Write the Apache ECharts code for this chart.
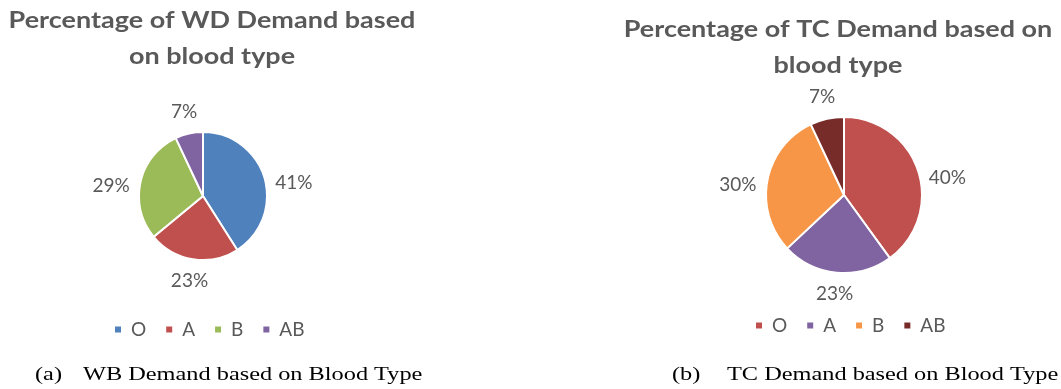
<!DOCTYPE html>
<html>
<head>
<meta charset="utf-8">
<script src="https://cdn.jsdelivr.net/npm/echarts@6/dist/echarts.min.js"></script>
<style>
  html, body { margin: 0; padding: 0; background: #fff; }
  #chart { width: 1061px; height: 389px; }
</style>
</head>
<body>
<div id="chart"></div>
<script>
const bloodTypes = ['O', 'A', 'B', 'AB']
const wdValues = [41, 23, 29, 7]
const tcValues = [40, 23, 30, 7]
const wdColors = ['#4F81BD', '#C0504D', '#9BBB59', '#8064A2']
const tcColors = ['#C0504D', '#8064A2', '#F79646', '#772C2A']

const chart = echarts.init(document.getElementById('chart'))

const grey = '#595959'
const sans = 'Lato, "Open Sans", sans-serif'
const serif = '"Liberation Serif", "Times New Roman", serif'

const centers = [[203, 196], [844, 195]]
const radii = [64, 78]
const allValues = [wdValues, tcValues]

const toData = (vals, colors) =>
  bloodTypes.map((name, i) => ({ name: name, value: vals[i], itemStyle: { color: colors[i] } }))

const toLegend = (colors) =>
  bloodTypes.map((name, i) => ({ name: name, itemStyle: { color: colors[i] } }))

// put label just outside the slice, like excel does (side labels drift toward horizontal)
const placeLabel = (params) => {
  const vals = allValues[params.seriesIndex]
  const total = vals.reduce((a, b) => a + b, 0)
  let before = 0
  for (let i = 0; i < params.dataIndex; i++) before += vals[i]
  const ang = (before + vals[params.dataIndex] / 2) / total * Math.PI * 2
  const dx = Math.sin(ang)
  const dy = -Math.cos(ang)
  const w = params.labelRect.width
  const h = params.labelRect.height
  const c = centers[params.seriesIndex]
  const d = radii[params.seriesIndex] + 10 + Math.abs(dx) * w / 2 + Math.abs(dy) * h / 2
  const squash = Math.abs(dx) > Math.abs(dy) ? 0.5 : 1
  return { x: c[0] + dx * d, y: c[1] + dy * d * squash, align: 'center', verticalAlign: 'middle' }
}

const pieBase = {
  type: 'pie',
  startAngle: 90,
  clockwise: true,
  avoidLabelOverlap: false,
  itemStyle: { borderColor: '#fff', borderWidth: 2 },
  label: {
    show: true,
    position: 'outside',
    formatter: '{c}%',
    color: grey,
    fontSize: 19,
    fontFamily: sans
  },
  labelLine: { show: false },
  labelLayout: placeLabel,
  emphasis: { disabled: true }
}

// the picture is stretched sideways, so the text is too
const textEl = (text, x, y, stretch, opts) => ({
  type: 'text',
  x: x,
  y: y,
  scaleX: stretch,
  style: Object.assign({
    text: text,
    textAlign: 'center',
    textVerticalAlign: 'middle'
  }, opts)
})

const titleStyle = { font: 'bold 22px ' + sans, fill: grey }
const capStyle = { font: '19px ' + serif, fill: '#000', textAlign: 'left' }
const ts = 1.227
const cs = 1.28

const legendBase = {
  icon: 'rect',
  itemWidth: 8,
  itemHeight: 8,
  itemGap: 18,
  padding: 0,
  selectedMode: false,
  textStyle: { color: grey, fontSize: 19, fontFamily: sans, padding: [0, 0, 0, 4] }
}

const option = {
  animation: false,
  graphic: [
    textEl('Percentage of WD Demand based', 212, 21, ts, titleStyle),
    textEl('on blood type', 212, 57, ts, titleStyle),
    textEl('Percentage of TC Demand based on', 838, 30, ts, titleStyle),
    textEl('blood type', 838, 66, ts, titleStyle),
    textEl('(a)', 35, 375, cs, capStyle),
    textEl('WB Demand based on Blood Type', 83, 375, cs, capStyle),
    textEl('(b)', 672, 375, cs, capStyle),
    textEl('TC Demand based on Blood Type', 727, 375, cs, capStyle)
  ],
  legend: [
    Object.assign({}, legendBase, { data: toLegend(wdColors), left: 113, top: 320 }),
    Object.assign({}, legendBase, { data: toLegend(tcColors), left: 754, top: 316 })
  ],
  series: [
    Object.assign({}, pieBase, {
      name: 'WD',
      center: centers[0],
      radius: radii[0],
      data: toData(wdValues, wdColors)
    }),
    Object.assign({}, pieBase, {
      name: 'TC',
      center: centers[1],
      radius: radii[1],
      data: toData(tcValues, tcColors)
    })
  ]
}

chart.setOption(option)
</script>
</body>
</html>
